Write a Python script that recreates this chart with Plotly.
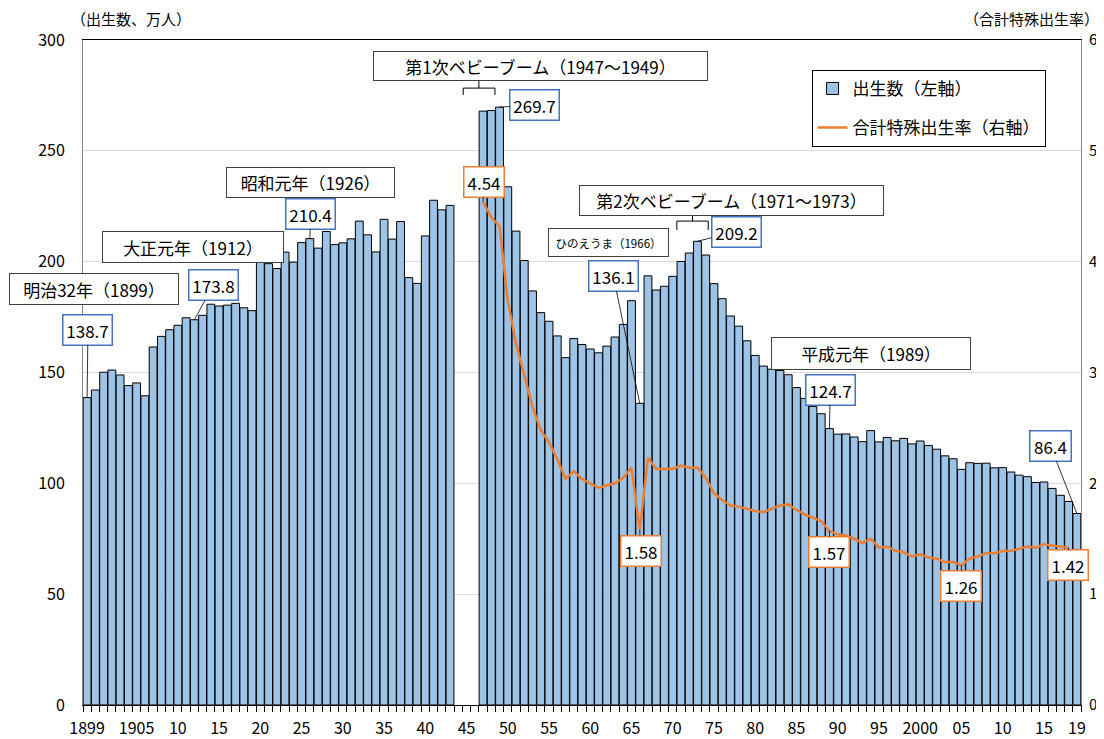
import plotly.graph_objects as go

# 出生数（万人）1899-2019、1944-1946 は資料なし
years = list(range(1899, 2020))
births = [
    138.7, 142.1, 150.1, 151.1, 148.9, 144.1, 145.3, 139.5, 161.5, 166.3,   # 1899-1908
    169.3, 171.3, 174.7, 173.8, 175.8, 180.8, 180.0, 180.4, 181.2, 179.2,   # 1909-1918
    177.9, 202.6, 199.1, 196.9, 204.3, 199.8, 208.6, 210.4, 206.1, 213.6,   # 1919-1928
    207.7, 208.5, 210.3, 218.3, 212.1, 204.4, 219.1, 210.2, 218.1, 192.8,   # 1929-1938
    190.2, 211.6, 227.7, 223.4, 225.4, None, None, None, 267.9, 268.2,      # 1939-1948
    269.7, 233.8, 213.8, 200.5, 186.8, 177.0, 173.1, 166.5, 156.7, 165.3,   # 1949-1958
    162.6, 160.6, 158.9, 161.9, 166.0, 171.7, 182.4, 136.1, 193.6, 187.2,   # 1959-1968
    188.9, 193.4, 200.1, 203.9, 209.2, 203.0, 190.1, 183.3, 175.5, 170.9,   # 1969-1978
    164.3, 157.7, 152.9, 151.5, 150.9, 149.0, 143.2, 138.3, 134.7, 131.4,   # 1979-1988
    124.7, 122.2, 122.3, 120.9, 118.8, 123.8, 118.7, 120.7, 119.2, 120.3,   # 1989-1998
    117.8, 119.1, 117.1, 115.4, 112.4, 111.1, 106.3, 109.3, 109.0, 109.1,   # 1999-2008
    107.0, 107.1, 105.1, 103.7, 103.0, 100.4, 100.6, 97.7, 94.6, 91.8,      # 2009-2018
    86.4,                                                                   # 2019
]

# 合計特殊出生率 1947-2018
tfr_years = list(range(1947, 2019))
tfr = [
    4.54, 4.40, 4.32, 3.65, 3.26, 2.98, 2.69, 2.48, 2.37, 2.22,   # 1947-1956
    2.04, 2.11, 2.04, 2.00, 1.96, 1.98, 2.00, 2.05, 2.14, 1.58,   # 1957-1966
    2.23, 2.13, 2.13, 2.13, 2.16, 2.14, 2.14, 2.05, 1.91, 1.85,   # 1967-1976
    1.80, 1.79, 1.77, 1.75, 1.74, 1.77, 1.80, 1.81, 1.76, 1.72,   # 1977-1986
    1.69, 1.66, 1.57, 1.54, 1.53, 1.50, 1.46, 1.50, 1.42, 1.43,   # 1987-1996
    1.39, 1.38, 1.34, 1.36, 1.33, 1.32, 1.29, 1.29, 1.26, 1.32,   # 1997-2006
    1.34, 1.37, 1.37, 1.39, 1.39, 1.41, 1.43, 1.42, 1.45, 1.44,   # 2007-2016
    1.43, 1.42,                                                   # 2017-2018
]

tick_years = [1899, 1905] + list(range(1910, 2016, 5)) + [2019]
tick_text = ["1899", "1905"] + [
    "2000" if y == 2000 else f"{y % 100:02d}" for y in range(1910, 2016, 5)
] + ["19"]

FONT = "Noto Sans CJK JP, Noto Sans, sans-serif"
BAR_COLOR = "#9DC3E6"
LINE_COLOR = "#ED7D31"
BOX_BLUE = "#4472C4"
CLEAR = "rgba(0,0,0,0)"

fig = go.Figure()

fig.add_trace(go.Bar(
    x=years, y=births,
    name="出生数（左軸）",
    marker=dict(color=BAR_COLOR, line=dict(color="black", width=1)),
    legendgroup="a",
))

fig.add_trace(go.Scatter(
    x=tfr_years, y=tfr,
    yaxis="y2",
    mode="lines",
    name="合計特殊出生率（右軸）",
    line=dict(color=LINE_COLOR, width=2.5),
    legendgroup="b",
))

# 期間ラベル（黒枠）
periods = [
    ("明治32年（1899）", 1899.8, 187.7, 164, 26, 17),
    ("大正元年（1912）", 1911.8, 206.6, 176, 26, 17),
    ("昭和元年（1926）", 1926.1, 235.7, 163, 25, 17),
    ("第1次ベビーブーム（1947～1949）", 1954.0, 288.3, 329, 24, 17),
    ("第2次ベビーブーム（1971～1973）", 1977.1, 227.6, 299, 25, 17),
    ("ひのえうま（1966）", 1962.2, 208.6, 115, 23, 11.5),
    ("平成元年（1989）", 1994.0, 158.6, 194, 27, 17),
]
for text, xc, yc, w, h, fs in periods:
    fig.add_annotation(
        x=xc, y=yc, xref="x", yref="y", text=text, showarrow=False,
        width=w, height=h, borderpad=2, bordercolor="#404040", borderwidth=1,
        bgcolor="white", font=dict(size=fs, color="black", family=FONT),
    )

# 出生数ラベル（青枠）: (年, 値, 枠中心の年, 枠中心の値)
birth_labels = [
    (1899, 138.7, 1899.1, 169.2),
    (1912, 173.8, 1914.3, 189.3),
    (1926, 210.4, 1926.1, 221.7),
    (1949, 269.7, 1953.3, 270.7),
    (1966, 136.1, 1962.8, 193.5),
    (1973, 209.2, 1977.7, 213.6),
    (1989, 124.7, 1989.1, 142.3),
    (2019, 86.4, 2015.8, 116.8),
]
for yr, val, bx, by in birth_labels:
    fig.add_annotation(
        x=yr, y=val, xref="x", yref="y", ax=bx, ay=by, axref="x", ayref="y",
        text=f"{val:.1f}", showarrow=True, arrowhead=0, arrowwidth=0.8,
        arrowcolor="black", standoff=0,
        width=44 if val >= 100 else 36, height=25, borderpad=2,
        bordercolor=BOX_BLUE, borderwidth=1.5, bgcolor="white",
        font=dict(size=17, color="black", family=FONT),
    )

# 合計特殊出生率ラベル（オレンジ枠）
tfr_labels = [
    (1947, 4.54, 1947.1, 4.72),
    (1966, 1.58, 1966.1, 1.394),
    (1989, 1.57, 1989.0, 1.380),
    (2005, 1.26, 2005.0, 1.074),
    (2018, 1.42, 2017.9, 1.259),
]
for yr, val, bx, by in tfr_labels:
    fig.add_annotation(
        x=yr, y=val, xref="x", yref="y2", ax=bx, ay=by, axref="x", ayref="y2",
        text=f"{val:.2f}", showarrow=True, arrowhead=0, arrowwidth=0.8,
        arrowcolor="black", standoff=0,
        width=35, height=25, borderpad=2,
        bordercolor=LINE_COLOR, borderwidth=1.5, bgcolor="white",
        font=dict(size=17, color="black", family=FONT),
    )

# ブラケット（ベビーブーム期間）
fig.add_shape(type="path", xref="x", yref="y",
              path="M1944.6,275.2 L1944.6,278.3 L1948.45,278.3 L1948.45,275.2 "
                   "M1946.5,278.3 L1946.5,281.9",
              line=dict(color="black", width=1))
fig.add_shape(type="path", xref="x", yref="y",
              path="M1970.5,214.3 L1970.5,218.3 L1974.3,218.3 L1974.3,214.3 "
                   "M1972.4,218.3 L1972.4,221.0",
              line=dict(color="black", width=1))

# 軸タイトル
fig.add_annotation(x=-0.013, y=1.0316, xref="paper", yref="paper", yanchor="middle",
                   xanchor="left", text="（出生数、万人）", showarrow=False, borderpad=0,
                   font=dict(size=15, color="black", family=FONT))
fig.add_annotation(x=1.019, y=1.0316, xref="paper", yref="paper", yanchor="middle",
                   xanchor="right", text="（合計特殊出生率）", showarrow=False, borderpad=0,
                   font=dict(size=15, color="black", family=FONT))

# ページ本体の余白 8px を見込んだ図のサイズ
fig.update_layout(
    template="none",
    width=1096, height=731,
    margin=dict(l=75, r=23, t=32, b=34),
    paper_bgcolor="white", plot_bgcolor="white",
    font=dict(family=FONT, size=16, color="black"),
    bargap=0.05,
    showlegend=True,
    legend=dict(
        x=0.73, y=0.955, xanchor="left", yanchor="top",
        bordercolor="black", borderwidth=1, bgcolor="white",
        font=dict(size=17, family=FONT), tracegroupgap=14,
        traceorder="grouped",
    ),
    xaxis=dict(
        range=[1898.5, 2019.5],
        tickmode="array", tickvals=tick_years, ticktext=tick_text,
        ticks="outside", ticklen=9, tickcolor=CLEAR,
        minor=dict(tickmode="linear", tick0=1898.5, dtick=1, ticks="outside",
                   ticklen=6, tickcolor="black", tickwidth=1, showgrid=False),
        showline=True, linecolor="black", linewidth=1, mirror=True,
        showgrid=False, zeroline=False, automargin=False,
        tickfont=dict(size=16),
    ),
    yaxis=dict(
        range=[0, 300], dtick=50, tick0=0,
        showgrid=True, gridcolor="#D9D9D9", gridwidth=1,
        showline=True, linecolor="#868686", linewidth=1, mirror=True,
        ticks="outside", ticklen=14, tickcolor=CLEAR,
        zeroline=False, automargin=False,
        tickfont=dict(size=16),
    ),
    yaxis2=dict(
        range=[0, 6], dtick=1, tick0=0,
        overlaying="y", side="right",
        showgrid=False, zeroline=False, showline=False,
        ticks="outside", ticklen=4, tickcolor=CLEAR, automargin=False,
        tickfont=dict(size=15),
    ),
)

fig.write_html("out.html")
